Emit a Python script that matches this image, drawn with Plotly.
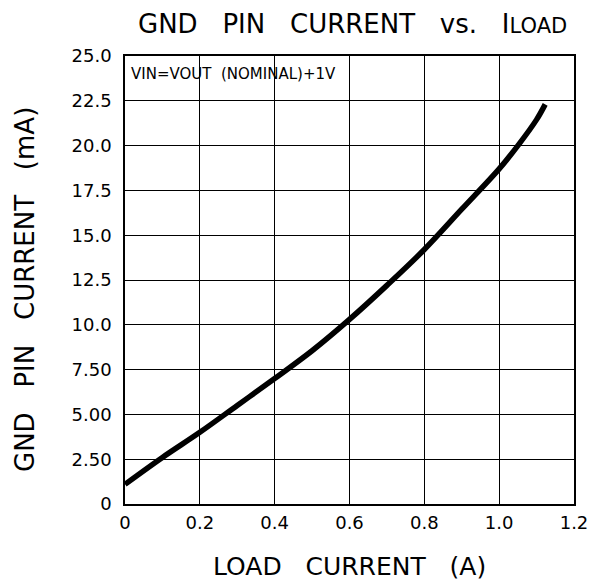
import plotly.graph_objects as go

load_current = [0, 0.1, 0.2, 0.3, 0.4, 0.5, 0.6, 0.7, 0.8, 0.9, 1.0, 1.05, 1.1, 1.123]
gnd_current = [1.1, 2.6, 4.0, 5.5, 7.0, 8.55, 10.3, 12.2, 14.2, 16.45, 18.7, 20.0, 21.45, 22.3]

x_ticks = [0, 0.2, 0.4, 0.6, 0.8, 1.0, 1.2]
x_labels = ["0", "0.2", "0.4", "0.6", "0.8", "1.0", "1.2"]
y_ticks = [0, 2.5, 5, 7.5, 10, 12.5, 15, 17.5, 20, 22.5, 25]
y_labels = ["0", "2.50", "5.00", "7.50", "10.0", "12.5", "15.0", "17.5", "20.0", "22.5", "25.0"]

font_main = "DejaVu Sans"

fig = go.Figure()
fig.add_trace(go.Scatter(x=load_current, y=gnd_current, mode="lines",
                         line=dict(color="black", width=5.5, shape="spline"),
                         showlegend=False, hoverinfo="skip"))

fig.update_layout(
    width=592, height=584,
    margin=dict(l=125, r=18, t=56, b=80, autoexpand=False),
    paper_bgcolor="white", plot_bgcolor="white",
    font=dict(family=font_main, color="black"),
    xaxis=dict(range=[0, 1.2], tickvals=x_ticks, ticktext=x_labels,
               showgrid=True, gridcolor="black", gridwidth=1,
               showline=True, linecolor="black", linewidth=1.5, mirror=True,
               ticks="", zeroline=False, ticklabelstandoff=2, automargin=False,
               tickfont=dict(family=font_main, size=18, color="black")),
    yaxis=dict(range=[0, 25], tickvals=y_ticks, ticktext=y_labels,
               showgrid=True, gridcolor="black", gridwidth=1,
               showline=True, linecolor="black", linewidth=1.5, mirror=True,
               ticks="", zeroline=False, ticklabelstandoff=8, automargin=False,
               tickfont=dict(family=font_main, size=18, color="black")),
)

# chart title
fig.add_annotation(text="GND   PIN   CURRENT   vs.   I<span style='font-size:21px'>LOAD</span>",
                   xref="paper", yref="paper", x=0.5056, y=1.0714,
                   xanchor="center", yanchor="middle", showarrow=False,
                   font=dict(family=font_main, size=26, color="black"))
# axis titles
fig.add_annotation(text="LOAD   CURRENT   (A)",
                   xref="paper", yref="paper", x=0.501, y=-0.1406,
                   xanchor="center", yanchor="middle", showarrow=False,
                   font=dict(family=font_main, size=25, color="black"))
fig.add_annotation(text="GND   PIN   CURRENT   (mA)", textangle=-90,
                   xref="paper", yref="paper", x=-0.2227, y=0.4777,
                   xanchor="center", yanchor="middle", showarrow=False,
                   font=dict(family=font_main, size=26, color="black"))
# condition note
fig.add_annotation(text="VIN=VOUT  (NOMINAL)+1V", xref="paper", yref="paper",
                   x=0.008, y=0.96, xanchor="left", yanchor="middle", showarrow=False,
                   font=dict(family=font_main, size=15, color="black"))

fig.write_html("out.html", config={"displayModeBar": False},
               post_script="document.body.style.margin='0';")
